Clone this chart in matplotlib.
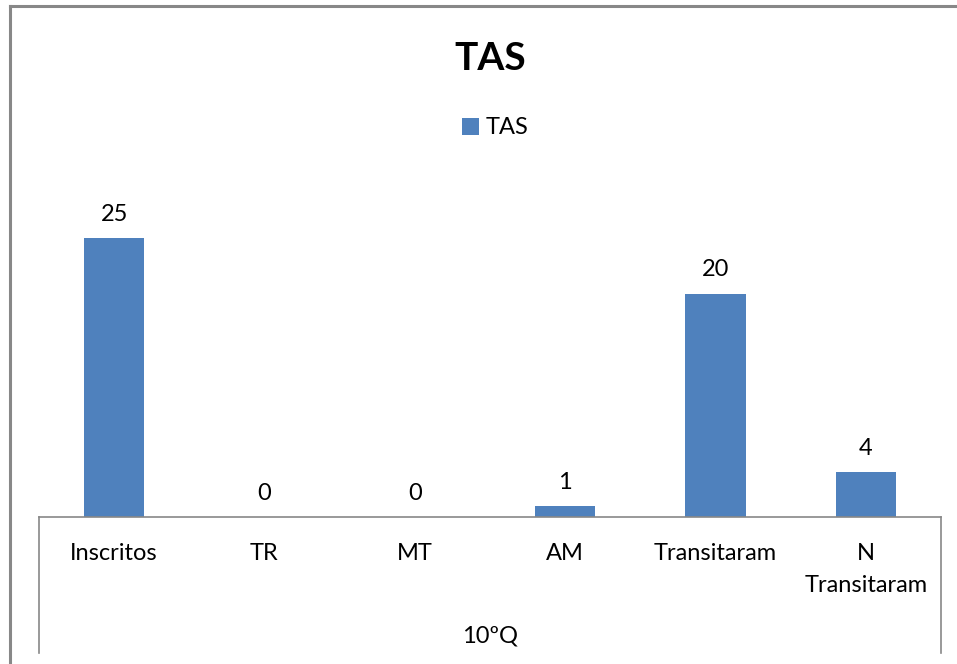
import matplotlib
matplotlib.use("Agg")
import matplotlib.pyplot as plt
from matplotlib.lines import Line2D

categories = ["Inscritos", "TR", "MT", "AM", "Transitaram", "N\nTransitaram"]
values = [25, 0, 0, 1, 20, 4]
series_name = "TAS"
title = "TAS"
group_label = "10ºQ"

plt.rcParams['font.family'] = ['Lato', 'DejaVu Sans']

W, H = 957, 664
fig = plt.figure(figsize=(W / 100, H / 100), dpi=100)

def fx(px):
    return px / W

def fy(py):
    return 1 - py / H

FS = 17

# plot area: x 39..941, y 182..517 (0..30)
ax = fig.add_axes([fx(39), fy(517), fx(941) - fx(39), fy(182) - fy(517)])
x = list(range(len(categories)))
bars = ax.bar(x, values, width=0.4, color="#4F81BD", label=series_name, zorder=2)
ax.set_xlim(-0.5, len(categories) - 0.5)
ax.set_ylim(0, 30)
for xi, v in zip(x, values):
    ax.annotate(str(v), xy=(xi, v), xytext=(0, 9.5), textcoords="offset points",
                ha="center", va="bottom", fontsize=FS)

for s in ["top", "left", "right"]:
    ax.spines[s].set_visible(False)
ax.spines["bottom"].set_color("#888888")
ax.spines["bottom"].set_linewidth(1.2)
ax.set_yticks([])
ax.set_xticks(x)
ax.set_xticklabels([])
ax.tick_params(axis="x", length=0)
for xi, c in zip(x, categories):
    ax.annotate(c, xy=(xi, 0), xycoords=("data", "axes fraction"),
                xytext=(0, -19), textcoords="offset points",
                ha="center", va="top", fontsize=FS, linespacing=1.62,
                annotation_clip=False)

# vertical lines of the category box
for px in (39, 941):
    fig.add_artist(Line2D([fx(px), fx(px)], [fy(517), fy(653)],
                          color="#888888", lw=1.2))

fig.text(fx(490), fy(636), group_label, ha="center", va="center", fontsize=FS)

fig.text(fx(490), fy(59), title, ha="center", va="center",
         fontsize=28, fontweight="bold")

leg = fig.legend(handles=[bars], labels=[series_name], loc="center",
                 bbox_to_anchor=(fx(495), fy(128)), frameon=False,
                 fontsize=FS, handlelength=0.72, handleheight=0.72,
                 handletextpad=0.3)

# outer border (top and left visible)
fig.add_artist(Line2D([fx(10), fx(957)], [fy(6), fy(6)], color="#888888", lw=2.2))
fig.add_artist(Line2D([fx(10), fx(10)], [fy(6), fy(664)], color="#888888", lw=2.2))

fig.savefig("out.png", dpi=100, facecolor="white")
